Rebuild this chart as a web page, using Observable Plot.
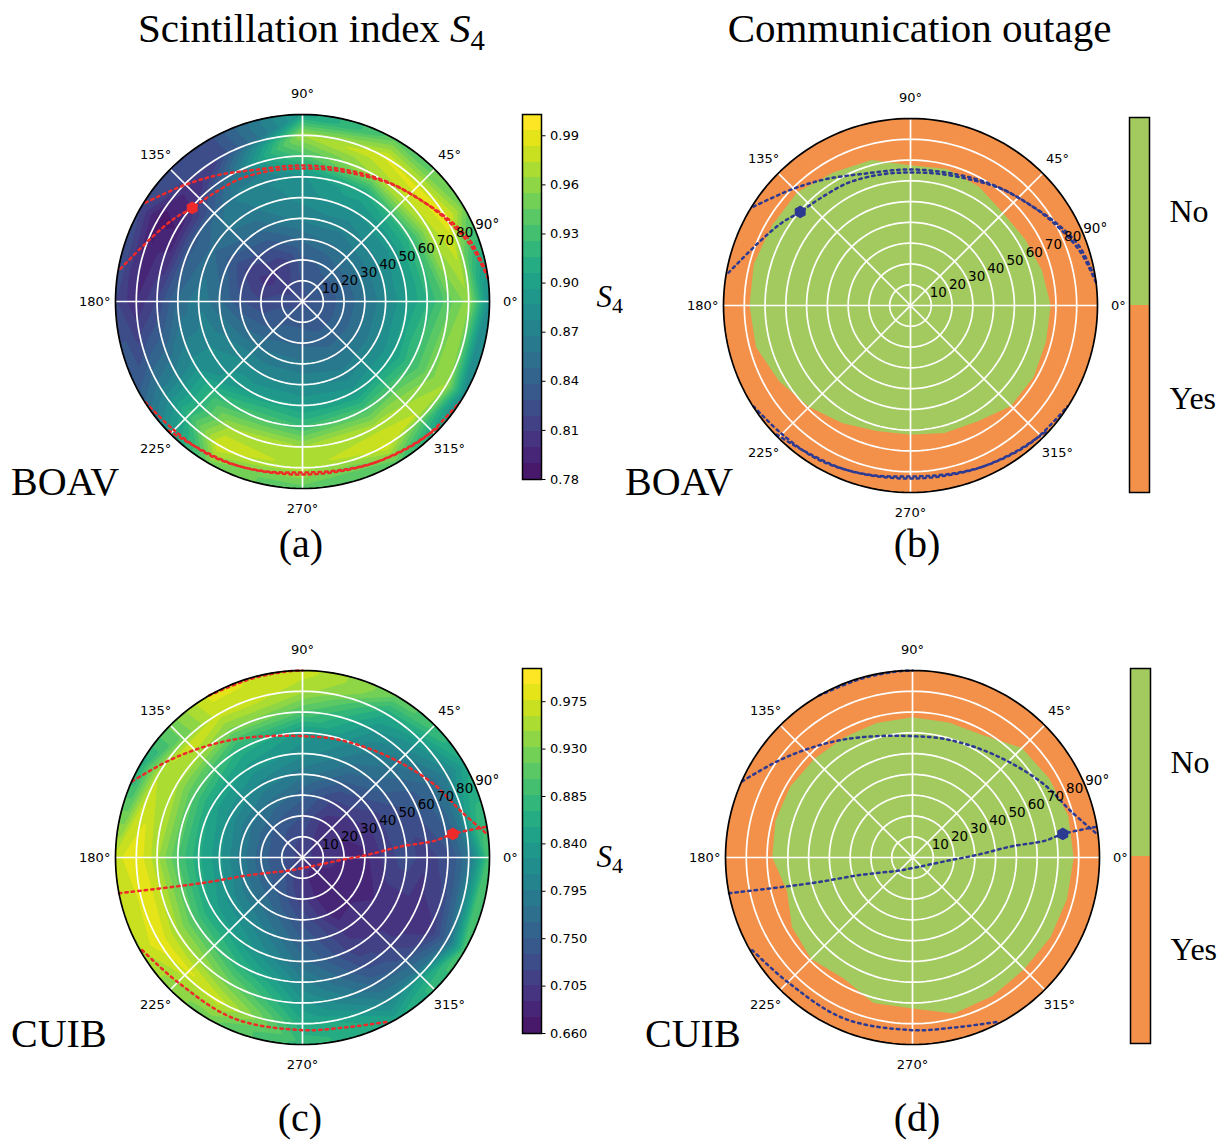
<!DOCTYPE html>
<html><head><meta charset="utf-8">
<script src="https://cdn.jsdelivr.net/npm/d3@7"></script>
<script src="https://cdn.jsdelivr.net/npm/@observablehq/plot@0.6"></script>
<style>
body{margin:0;background:#fff;}
#fig{position:relative;width:1219px;height:1141px;overflow:hidden;background:#fff;}
</style></head><body><div id="fig"></div>
<script>
// ---------------- data ----------------
const azimuths = [0, 30, 60, 90, 120, 150, 180, 210, 240, 270, 300, 330];
const zeniths = [10, 20, 30, 40, 50, 60, 70, 80, 90];

// S4 at BOAV: one row per zenith ring, one value per azimuth
const s4BoavCenter = 0.825;
const s4Boav = [
  [0.835,0.835,0.835,0.83,0.82,0.815,0.825,0.83,0.835,0.835,0.835,0.835],
  [0.84,0.84,0.84,0.835,0.81,0.805,0.82,0.835,0.845,0.845,0.84,0.84],
  [0.855,0.86,0.855,0.85,0.83,0.815,0.83,0.85,0.86,0.86,0.855,0.855],
  [0.875,0.875,0.87,0.87,0.85,0.835,0.85,0.87,0.875,0.875,0.87,0.875],
  [0.895,0.89,0.885,0.88,0.865,0.85,0.865,0.88,0.895,0.895,0.89,0.895],
  [0.915,0.92,0.905,0.885,0.87,0.835,0.85,0.88,0.93,0.925,0.93,0.925],
  [0.94,0.97,0.965,0.93,0.855,0.79,0.82,0.87,0.965,0.965,0.97,0.95],
  [0.96,0.99,0.985,0.965,0.82,0.785,0.80,0.86,0.985,0.97,0.985,0.965],
  [0.88,0.95,0.94,0.9,0.825,0.82,0.82,0.84,0.95,0.94,0.94,0.88]
];
// S4 at CUIB
const s4CuibCenter = 0.71;
const s4Cuib = [
  [0.70,0.70,0.705,0.72,0.725,0.735,0.74,0.735,0.725,0.70,0.68,0.69],
  [0.69,0.69,0.70,0.735,0.745,0.755,0.755,0.755,0.745,0.71,0.675,0.68],
  [0.685,0.70,0.715,0.755,0.775,0.785,0.79,0.785,0.77,0.73,0.68,0.685],
  [0.71,0.715,0.745,0.785,0.805,0.82,0.83,0.82,0.80,0.75,0.70,0.69],
  [0.73,0.735,0.775,0.815,0.835,0.85,0.86,0.85,0.83,0.77,0.71,0.69],
  [0.71,0.745,0.80,0.835,0.865,0.90,0.90,0.90,0.87,0.80,0.73,0.69],
  [0.73,0.765,0.825,0.90,0.925,0.95,0.95,0.95,0.92,0.83,0.76,0.70],
  [0.78,0.80,0.86,0.95,0.97,0.96,0.99,0.99,0.97,0.86,0.80,0.76],
  [0.90,0.85,0.92,0.97,0.98,0.86,0.97,0.96,0.92,0.88,0.85,0.90]
];

// colour-bar levels and ticks
const levelsBoavRange = [0.78, 1.003];
const levelsCuibRange = [0.66, 1.0065];
const levelCount = 23;
const ticksBoav = [0.78, 0.81, 0.84, 0.87, 0.90, 0.93, 0.96, 0.99];
const ticksCuib = [0.660, 0.705, 0.750, 0.795, 0.840, 0.885, 0.930, 0.975];

// outage boundary (zenith angle of the no-outage region edge) by azimuth
const outageAzimuths = [0,15,30,45,60,75,90,105,120,135,150,165,180,195,210,225,240,255,270,285,300,315,330,345];
const outageBoav = [67.5,65.5,63.7,63,66,68,67.5,72.5,74,77,77,78,77.5,77,73,69,65.5,62.5,62.2,63.5,64.4,68.4,68.5,67.5];
const outageCuib = [77.6,77.6,76,74.5,68,67.3,67.5,67,66.5,67,68,68.3,67.5,62.5,67,69,67,72.5,72.7,77.7,77,76,76.7,77];
const outageCategories = ["No", "Yes"];

// satellite tracks [azimuth, zenith]
const boavTracks = [
  [[169.8,89],[157.6,79.2],[147.2,73.6],[139.7,69.6],[130.9,67.6],[116.7,66.2],[102.2,64.6],[90,64],[76.4,65],[62.4,67.7],[51.7,71.3],[40.5,75],[29.7,80.5],[19.4,86.1],[8,90]],
  [[147.8,89.3],[135.6,79.9],[124,73.3],[110,67.4],[90,65.5],[70,67],[55,70.5],[42,74.5],[30,79.5],[18,85.5],[7,90]],
  [[212.7,89.8],[225,87.5],[239.3,86.4],[255,84],[270,82.3],[285,83.5],[297.4,85.5],[312,88],[327.3,89.8]],
  [[224,89.5],[235,86.5],[250,84.8],[270,83.3],[290,84.5],[305,86.5],[318,89.5]]
];
const boavSatellite = [139.7, 69.6];
const cuibTracks = [
  [[155.9,89.8],[144.6,79.9],[132.9,72],[120.2,65.7],[106.1,60.8],[90,58.4],[75,59.1],[59.2,61.3],[43.8,65.7],[28.9,72.5],[16.2,79.5],[7,89.9]],
  [[120,90],[106,89.5],[95,89.8],[90,90]],
  [[210,89.1],[224.8,84.9],[246.9,84.2],[270,83.1],[285,84.5],[297.4,89.1]],
  [[191,90],[194.2,50.6],[198.6,26.3],[221.6,9.6],[270,5.1],[352.9,15.4],[2.4,31.4],[6.4,47.7],[7.2,64],[8.9,73.2],[9.5,90]]
];
const cuibSatellite = [8.9, 73.2];

const ringTicks = [10, 20, 30, 40, 50, 60, 70, 80];
const radialLabels = [10, 20, 30, 40, 50, 60, 70, 80, 90];
const angleTicks = [0, 45, 90, 135, 180, 225, 270, 315];

// ---------------- helpers ----------------
const GREEN = "#a3ca5e", ORANGE = "#f3914a", RED = "#ee2a2a", BLUE = "#2d3a92";
const RAD = Math.PI / 180;
const px = (az, zen) => zen * Math.cos(az * RAD);
const py = (az, zen) => zen * Math.sin(az * RAD);
const ringPoints = r => d3.range(0, 360, 2).map(a => ({x: px(a, r), y: py(a, r), r}));
const fig = document.getElementById("fig");
function place(node, left, top) {
  node.style.position = "absolute";
  node.style.left = left + "px";
  node.style.top = top + "px";
  fig.appendChild(node);
}
function levels(range) {
  const step = (range[1] - range[0]) / levelCount;
  return {step, values: d3.range(levelCount + 1).map(i => range[0] + i * step)};
}
function colorScale(range) {
  const {step} = levels(range);
  return {type: "linear", scheme: "viridis", domain: [range[0] - 1.5 * step, range[1] - step]};
}
function fieldPoints(center, rows) {
  const pts = [{x: 0, y: 0, v: center}];
  rows.forEach((row, i) => row.forEach((v, j) => pts.push({x: px(azimuths[j], zeniths[i]), y: py(azimuths[j], zeniths[i]), v})));
  return pts;
}

function polarPanel({field, range, outage, tracks, sat, stroke, id}) {
  const marks = [];
  if (field) {
    marks.push(Plot.contour(field, {x: "x", y: "y", fill: "v", thresholds: levels(range).values,
      interpolate: "barycentric", x1: -92, x2: 92, y1: -92, y2: 92}));
  } else {
    marks.push(Plot.line(ringPoints(90), {x: "x", y: "y", curve: "linear-closed", fill: ORANGE, stroke: "none"}));
    marks.push(Plot.line(outageAzimuths, {x: (a, i) => px(a, outage[i]), y: (a, i) => py(a, outage[i]),
      curve: "linear-closed", fill: GREEN, stroke: "none"}));
  }
  marks.push(Plot.line(ringTicks.flatMap(ringPoints), {x: "x", y: "y", z: "r", curve: "linear-closed", stroke: "white", strokeWidth: 1.7}));
  marks.push(Plot.link(angleTicks, {x1: () => 0, y1: () => 0, x2: a => px(a, 90), y2: a => py(a, 90), stroke: "white", strokeWidth: 1.7}));
  const tpts = tracks.flatMap((t, k) => t.map(([az, zen]) => ({tx: px(az, zen), ty: py(az, zen), k: "t" + k})));
  marks.push(Plot.line(tpts, {x: "tx", y: "ty", z: "k", stroke: stroke, strokeWidth: 2.5, strokeDasharray: "2.5,4", curve: "catmull-rom"}));
  marks.push(Plot.dot([sat], {x: d => px(d[0], d[1]), y: d => py(d[0], d[1]), r: 5.5, symbol: "hexagon", fill: stroke, stroke: "none"}));
  marks.push(Plot.line(ringPoints(90), {x: "x", y: "y", curve: "linear-closed", stroke: "black", strokeWidth: 1.7}));
  marks.push(Plot.text(angleTicks, {x: a => px(a, 100), y: a => py(a, 100), text: a => `${a}°`, fontSize: 13, fill: "black"}));
  marks.push(Plot.text(radialLabels, {x: r => px(22.5, r), y: r => py(22.5, r), text: r => r === 90 ? "90°" : String(r),
    textAnchor: "start", lineAnchor: "bottom", fontSize: 13.5, fill: "black", dy: -1}));
  const svg = Plot.plot({
    width: 460, height: 460, margin: 43,
    x: {domain: [-90, 90], axis: null},
    y: {domain: [-90, 90], axis: null},
    color: field ? colorScale(range) : undefined,
    style: {fontFamily: "DejaVu Sans", fontSize: "13px", background: "transparent", overflow: "visible"},
    marks
  });
  const xs = svg.scale("x"), ys = svg.scale("y");
  const cx = xs.apply(0), cy = ys.apply(0), rad = xs.apply(90) - cx;
  const ns = "http://www.w3.org/2000/svg";
  const defs = document.createElementNS(ns, "defs");
  const cp = document.createElementNS(ns, "clipPath");
  cp.setAttribute("id", id);
  const c = document.createElementNS(ns, "circle");
  c.setAttribute("cx", cx); c.setAttribute("cy", cy); c.setAttribute("r", rad);
  cp.appendChild(c); defs.appendChild(cp); svg.insertBefore(defs, svg.firstChild);
  svg.querySelectorAll('g[aria-label="contour"]').forEach(g => g.setAttribute("clip-path", `url(#${id})`));
  return svg;
}

function s4Colorbar(range, ticks, fmt) {
  const lv = levels(range).values;
  const bands = d3.pairs(lv).map(([lo, hi]) => ({lo, hi}));
  return Plot.plot({
    width: 80, height: 385, marginLeft: 1, marginRight: 60, marginTop: 10, marginBottom: 10,
    x: {domain: ["bar"], axis: null, padding: 0},
    y: {domain: range, axis: null},
    color: colorScale(range),
    style: {fontFamily: "DejaVu Sans", fontSize: "13px", background: "transparent", overflow: "visible"},
    marks: [
      Plot.barY(bands, {x: () => "bar", y1: "lo", y2: "hi", fill: "lo", shapeRendering: "crispEdges"}),
      Plot.frame({stroke: "black", strokeWidth: 1.5}),
      Plot.axisY(ticks, {anchor: "right", tickSize: 3.5, tickPadding: 5, tickFormat: d3.format(fmt), fontSize: 13, fill: "black"})
    ]
  });
}
function outageColorbar() {
  return Plot.plot({
    width: 100, height: 395, marginLeft: 1, marginRight: 79, marginTop: 10, marginBottom: 10,
    x: {domain: ["bar"], axis: null, padding: 0},
    y: {domain: outageCategories, padding: 0, axis: null},
    color: {domain: outageCategories, range: [GREEN, ORANGE]},
    style: {fontFamily: "Liberation Serif", fontSize: "32px", background: "transparent", overflow: "visible"},
    marks: [
      Plot.cell(outageCategories, {x: () => "bar", y: d => d, fill: d => d}),
      Plot.frame({stroke: "black", strokeWidth: 1.5}),
      Plot.axisY({anchor: "right", tickSize: 0, tickPadding: 20, fill: "black"})
    ]
  });
}

// ---------------- panels ----------------
place(polarPanel({field: fieldPoints(s4BoavCenter, s4Boav), range: levelsBoavRange, tracks: boavTracks, sat: boavSatellite, stroke: RED, id: "clipA"}), 301.5 - 230, 301 - 230);
place(polarPanel({outage: outageBoav, tracks: boavTracks, sat: boavSatellite, stroke: BLUE, id: "clipB"}), 910 - 230, 304.5 - 230);
place(polarPanel({field: fieldPoints(s4CuibCenter, s4Cuib), range: levelsCuibRange, tracks: cuibTracks, sat: cuibSatellite, stroke: RED, id: "clipC"}), 301.5 - 230, 856.5 - 230);
place(polarPanel({outage: outageCuib, tracks: cuibTracks, sat: cuibSatellite, stroke: BLUE, id: "clipD"}), 912 - 230, 856.5 - 230);

place(s4Colorbar(levelsBoavRange, ticksBoav, ".2f"), 520.7, 104);
place(s4Colorbar(levelsCuibRange, ticksCuib, ".3f"), 520.7, 658.3);
place(outageColorbar(), 1128.3, 106.7);
place(outageColorbar(), 1129, 658.3);

// ---------------- text ----------------
const ov = d3.create("svg").attr("width", 1219).attr("height", 1141)
  .style("position", "absolute").style("left", "0px").style("top", "0px").style("pointer-events", "none")
  .attr("font-family", "Liberation Serif").attr("fill", "black");
function title(x, y, main, italic, sub, size) {
  const t = ov.append("text").attr("x", x).attr("y", y).attr("text-anchor", "middle").attr("font-size", size);
  t.append("tspan").text(main);
  if (italic) {
    t.append("tspan").attr("font-style", "italic").text(italic);
    t.append("tspan").attr("font-size", size * 0.7).attr("dy", size * 0.2).text(sub);
  }
}
title(311.5, 42, "Scintillation index ", "S", "4", 41);
title(919.5, 42, "Communication outage", null, null, 41);
const big = (x, y, s, anchor) => ov.append("text").attr("x", x).attr("y", y).attr("font-size", 40).attr("text-anchor", anchor).text(s);
big(11, 494.5, "BOAV", "start");
big(625, 494.5, "BOAV", "start");
big(11, 1046.5, "CUIB", "start");
big(645, 1046.5, "CUIB", "start");
big(301, 557, "(a)", "middle");
big(917, 557, "(b)", "middle");
big(300, 1131, "(c)", "middle");
big(917, 1131, "(d)", "middle");
function s4Label(x, y) {
  const t = ov.append("text").attr("x", x).attr("y", y).attr("font-size", 31);
  t.append("tspan").attr("font-style", "italic").text("S");
  t.append("tspan").attr("font-size", 22).attr("dy", 6).text("4");
}
s4Label(596.5, 307);
s4Label(596.5, 867);
fig.appendChild(ov.node());
</script>
</body></html>
